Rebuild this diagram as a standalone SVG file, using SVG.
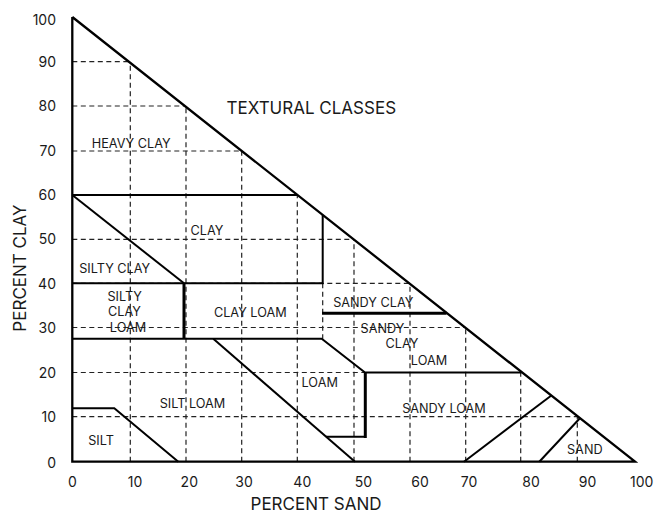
<svg xmlns="http://www.w3.org/2000/svg" width="656" height="512" viewBox="0 0 656 512">
<style>
.grid{fill:none;stroke:#222;stroke-width:1.2;stroke-dasharray:5 3.5}
.b{fill:none;stroke:#000;stroke-width:2;stroke-linejoin:miter}
.bt{fill:none;stroke:#000;stroke-width:3}
text{font-family:Inter,"Liberation Sans",sans-serif;fill:#1a1a1a}
.tick{font-size:14px}
.lab{font-size:12.7px;text-anchor:middle}
.ax{font-size:17px;text-anchor:middle}
</style>
<rect width="656" height="512" fill="#fff"/>
<g id="grid">
<path class="grid" d="M72.3,61.7H129.5M72.3,106H185M72.3,151H241.5M72.3,239.3H353.5M72.3,283.3H409.5M72.3,327.5H465M72.3,372.5H365M72.3,416.7H577.7"/>
<path class="grid" d="M130.3,461.7V62.5M186,461.7V107M241.7,461.7V151M297.3,461.7V195M354,461.7V239.5M410,461.7V284M465.7,461.7V328M520.7,461.7V372M577.3,461.7V417M322.7,283.3V338.8"/>
</g>
<g id="connectors">
<path class="b" d="M72.3,17V461.7H635L72.3,17" style="stroke-width:2.3"/>
<path class="b" d="M72.3,195H297.3"/>
<path class="b" d="M72.3,195L184,283.3"/>
<path class="b" d="M72.3,283.3H322.7V215"/>
<path class="bt" d="M184,283.3V338.8"/>
<path class="b" d="M72.3,338.8H321.7L365,372.5H521.5"/>
<path class="bt" d="M322,313.3H446.5"/>
<path class="b" d="M213.3,338.8L355,461.7"/>
<path class="b" d="M326,436.7H365.3"/>
<path class="bt" d="M365.3,438V372.5"/>
<path class="b" d="M72.3,408.3H114.3L178.3,461.7"/>
<path class="b" d="M464,461.7L551,395.7"/>
<path class="b" d="M539.3,461.7L579.9,418.3"/>
</g>
<g id="axis-labels">
<g class="tick" text-anchor="end">
<text x="56" y="25">100</text>
<text x="56" y="66.7">90</text>
<text x="56" y="111">80</text>
<text x="56" y="156">70</text>
<text x="56" y="200">60</text>
<text x="56" y="244.3">50</text>
<text x="56" y="288.5">40</text>
<text x="56" y="332.5">30</text>
<text x="56" y="377.5">20</text>
<text x="56" y="421.7">10</text>
<text x="56" y="468">0</text>
</g>
<g class="tick" text-anchor="middle">
<text x="72.3" y="486.7">0</text>
<text x="135" y="486.7">10</text>
<text x="189.3" y="486.7">20</text>
<text x="244" y="486.7">30</text>
<text x="302.3" y="486.7">40</text>
<text x="363.5" y="486.7">50</text>
<text x="420" y="486.7">60</text>
<text x="469" y="486.7">70</text>
<text x="531" y="486.7">80</text>
<text x="587.5" y="486.7">90</text>
<text x="641.7" y="486.7">100</text>
</g>
<text class="ax" x="316" y="509.5">PERCENT SAND</text>
<text class="ax" transform="translate(25.5,268) rotate(-90)">PERCENT CLAY</text>
<text class="ax" x="311.3" y="114">TEXTURAL CLASSES</text>
</g>
<g id="heavy-clay"><text class="lab" x="131.2" y="147.7">HEAVY CLAY</text></g>
<g id="clay"><text class="lab" x="207" y="235">CLAY</text></g>
<g id="silty-clay"><text class="lab" x="114.7" y="273.3">SILTY CLAY</text></g>
<g id="silty-clay-loam"><text class="lab" x="124.7" y="300.7">SILTY</text><text class="lab" x="124.5" y="316">CLAY</text><text class="lab" x="128" y="331.7">LOAM</text></g>
<g id="clay-loam"><text class="lab" x="250.3" y="316.7">CLAY LOAM</text></g>
<g id="sandy-clay"><text class="lab" x="373.3" y="306.7">SANDY CLAY</text></g>
<g id="sandy-clay-loam"><text class="lab" x="382.5" y="332.7">SANDY</text><text class="lab" x="402" y="348.3">CLAY</text><text class="lab" x="429" y="365">LOAM</text></g>
<g id="loam"><text class="lab" x="319.7" y="386.7">LOAM</text></g>
<g id="sandy-loam"><text class="lab" x="444" y="413.3">SANDY LOAM</text></g>
<g id="silt-loam"><text class="lab" x="192.5" y="408.3">SILT LOAM</text></g>
<g id="silt"><text class="lab" x="101" y="445">SILT</text></g>
<g id="sand"><text class="lab" x="584.8" y="454">SAND</text></g>
</svg>
